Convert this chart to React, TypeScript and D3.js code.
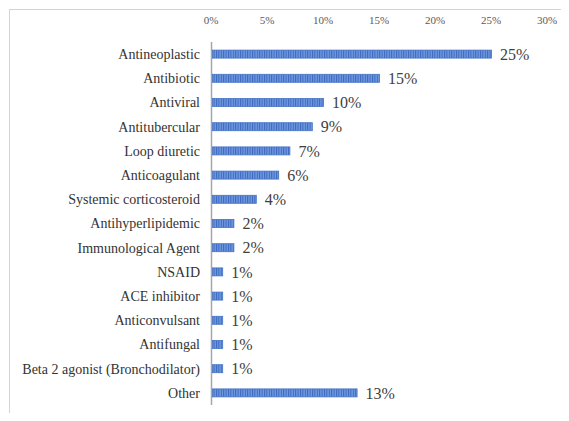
import React from "react";
import * as d3 from "d3";

const categories = [
  "Antineoplastic",
  "Antibiotic",
  "Antiviral",
  "Antitubercular",
  "Loop diuretic",
  "Anticoagulant",
  "Systemic corticosteroid",
  "Antihyperlipidemic",
  "Immunological Agent",
  "NSAID",
  "ACE inhibitor",
  "Anticonvulsant",
  "Antifungal",
  "Beta 2 agonist (Bronchodilator)",
  "Other",
];
const shares = [25, 15, 10, 9, 7, 6, 4, 2, 2, 1, 1, 1, 1, 1, 13];
const tickValues = [0, 5, 10, 15, 20, 25, 30];

const W = 569;
const H = 421;
const SERIF = "Liberation Serif";

export default function App() {
  const x = d3.scaleLinear().domain([0, 30]).range([211, 547]);
  const y = d3.scaleBand<string>().domain(categories).range([42, 405]).padding(0);
  const barH = 8;
  const fmt = (v: number) => `${v}%`;

  return (
    <div style={{ margin: -8 }}>
      <svg width={W} height={H} style={{ display: "block", background: "#fff" }}>
        <defs>
          <pattern id="stripes" width="2.4" height="10" patternUnits="userSpaceOnUse">
            <rect width="2.4" height="10" fill="#6f9ae0" />
            <rect width="1" height="10" fill="#3c67bf" />
          </pattern>
        </defs>
        <rect x={9.5} y={9.5} width={W + 10} height={H + 10} fill="#fff" stroke="#d4d4d4" />

        {tickValues.map((t) => (
          <text
            key={t}
            x={x(t)}
            y={24}
            textAnchor="middle"
            fontSize={11}
            fill="#595959"
            fontFamily={SERIF}
          >
            {fmt(t)}
          </text>
        ))}

        <line x1={x(0) + 0.5} x2={x(0) + 0.5} y1={42} y2={405} stroke="#a6a6a6" strokeWidth={1.5} />

        {categories.map((c, i) => {
          const cy = (y(c) as number) + y.bandwidth() / 2;
          const v = shares[i];
          return (
            <g key={c}>
              <text
                x={200}
                y={cy}
                dy="0.35em"
                textAnchor="end"
                fontSize={14}
                fill="#333"
                fontFamily={SERIF}
              >
                {c}
              </text>
              <rect
                x={x(0) + 1.5}
                y={cy - barH / 2}
                width={x(v) - x(0) - 1}
                height={barH}
                fill="url(#stripes)"
                stroke="#4472c4"
                strokeWidth={0.8}
              />
              <text
                x={x(v) + 9}
                y={cy}
                dy="0.36em"
                fontSize={16}
                fill="#404040"
                fontFamily={SERIF}
              >
                {fmt(v)}
              </text>
            </g>
          );
        })}
      </svg>
    </div>
  );
}
